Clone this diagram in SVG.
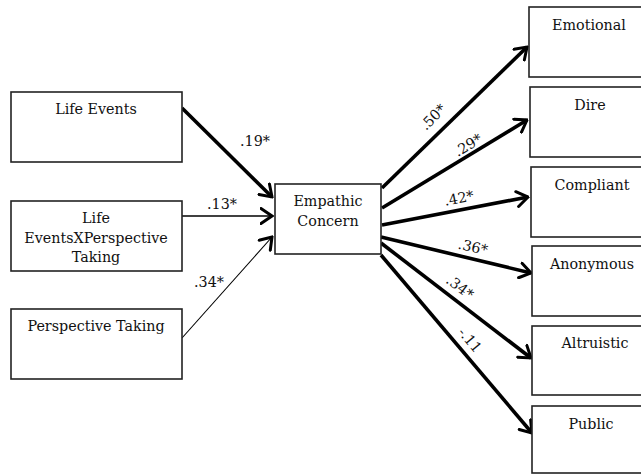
<svg xmlns="http://www.w3.org/2000/svg" width="641" height="475" viewBox="0 0 641 475">
<defs>
<style>
.box{fill:#fff;stroke:#222;stroke-width:1.6}
.t{font-family:'DejaVu Serif',serif;font-size:14.3px;fill:#111;text-anchor:middle}
.c{fill:none;stroke:#000}
.thick{stroke-width:3.6}
.mid{stroke-width:1.6}
.thin{stroke-width:1.1}
</style>
<marker id="ah" viewBox="0 0 14 18" refX="12.5" refY="9" markerWidth="14" markerHeight="18" markerUnits="userSpaceOnUse" orient="auto">
<path d="M1.5,1.5 L12.5,9 L1.5,16.5" fill="none" stroke="#000" stroke-width="3" stroke-linejoin="miter" stroke-linecap="round"/>
</marker>
</defs>
<rect width="641" height="475" fill="#fff"/>

<g id="connectors">
<line class="c thick" x1="182" y1="108" x2="272" y2="197" marker-end="url(#ah)"/>
<line class="c mid" x1="182" y1="216" x2="272" y2="216" marker-end="url(#ah)"/>
<line class="c thin" x1="182" y1="338" x2="272" y2="237" marker-end="url(#ah)"/>
<line class="c thick" x1="382" y1="188" x2="527" y2="47" marker-end="url(#ah)"/>
<line class="c thick" x1="382" y1="208" x2="527" y2="120" marker-end="url(#ah)"/>
<line class="c thick" x1="382" y1="225" x2="528" y2="197" marker-end="url(#ah)"/>
<line class="c thick" x1="381" y1="237" x2="531" y2="273" marker-end="url(#ah)"/>
<line class="c thick" x1="381" y1="243" x2="531" y2="358" marker-end="url(#ah)"/>
<line class="c thick" x1="381" y1="255" x2="532" y2="433" marker-end="url(#ah)"/>
<text class="t" x="255" y="146">.19*</text>
<text class="t" x="222" y="209">.13*</text>
<text class="t" x="209" y="287">.34*</text>
<text class="t" x="433" y="122" transform="rotate(-45 433 117)">.50*</text>
<text class="t" x="468" y="150" transform="rotate(-31 468 145)">.29*</text>
<text class="t" x="459" y="203" transform="rotate(-11 459 198)">.42*</text>
<text class="t" x="473" y="252" transform="rotate(13 473 247)">.36*</text>
<text class="t" x="460" y="292" transform="rotate(37 460 287)">.34*</text>
<text class="t" x="470" y="345" transform="rotate(50 470 340)">-.11</text>
</g>

<g id="life-events">
<rect class="box" x="11" y="92" width="171" height="70"/>
<text class="t" x="96" y="114">Life Events</text>
</g>
<g id="life-events-x-perspective-taking">
<rect class="box" x="11" y="201" width="171" height="70"/>
<text class="t" x="96" y="223">Life</text>
<text class="t" x="96" y="243">EventsXPerspective</text>
<text class="t" x="96" y="262">Taking</text>
</g>
<g id="perspective-taking">
<rect class="box" x="11" y="309" width="171" height="70"/>
<text class="t" x="96" y="331">Perspective Taking</text>
</g>
<g id="empathic-concern">
<rect class="box" x="275" y="184" width="106" height="70"/>
<text class="t" x="328" y="206">Empathic</text>
<text class="t" x="328" y="226">Concern</text>
</g>
<g id="emotional">
<rect class="box" x="529" y="7" width="125" height="70"/>
<text class="t" x="589" y="30">Emotional</text>
</g>
<g id="dire">
<rect class="box" x="530" y="87" width="125" height="70"/>
<text class="t" x="590" y="110">Dire</text>
</g>
<g id="compliant">
<rect class="box" x="531" y="167" width="125" height="70"/>
<text class="t" x="592" y="190">Compliant</text>
</g>
<g id="anonymous">
<rect class="box" x="532" y="246" width="125" height="70"/>
<text class="t" x="592" y="269">Anonymous</text>
</g>
<g id="altruistic">
<rect class="box" x="532" y="326" width="125" height="69"/>
<text class="t" x="595" y="348">Altruistic</text>
</g>
<g id="public">
<rect class="box" x="532" y="406" width="125" height="67"/>
<text class="t" x="591" y="429">Public</text>
</g>
</svg>
